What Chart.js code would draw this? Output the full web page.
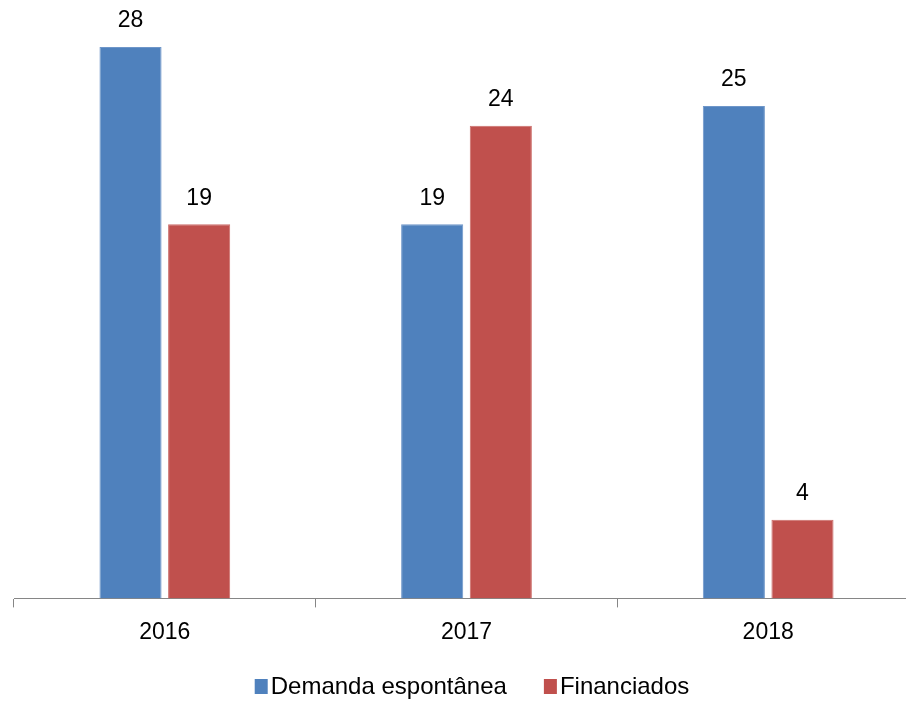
<!DOCTYPE html>
<html>
<head>
<meta charset="utf-8">
<script src="https://cdn.jsdelivr.net/npm/chart.js@4/dist/chart.umd.min.js"></script>
<style>
html,body{margin:0;padding:0;background:#fff;overflow:hidden;}
#wrap{position:relative;width:932px;height:702px;}
</style>
</head>
<body>
<div id="wrap"><canvas id="c" width="932" height="702"></canvas></div>
<script>
const categories = ["2016", "2017", "2018"];
const demandaEspontanea = [28, 19, 25];
const financiados = [19, 24, 4];
const seriesNames = ["Demanda espontânea", "Financiados"];

const FONT = "'Liberation Sans', Arial, sans-serif";

const labelsPlugin = {
  id: 'barLabels',
  afterDatasetsDraw(chart) {
    const ctx = chart.ctx;
    ctx.save();
    ctx.font = "23px " + FONT;
    ctx.fillStyle = "#000";
    ctx.textAlign = "center";
    ctx.textBaseline = "middle";
    chart.data.datasets.forEach((ds, i) => {
      chart.getDatasetMeta(i).data.forEach((bar, j) => {
        ctx.fillText(String(ds.data[j]), bar.x, bar.y - 26);
      });
    });
    ctx.restore();
  }
};

const legendPlugin = {
  id: 'customLegend',
  afterDraw(chart) {
    const ctx = chart.ctx;
    ctx.save();
    ctx.font = "24px " + FONT;
    ctx.textBaseline = "middle";
    ctx.textAlign = "left";
    const box = 13, gapBox = 3, gapItem = 37;
    const items = chart.data.datasets.map(ds => ({text: ds.label, color: ds.backgroundColor, w: ctx.measureText(ds.label).width}));
    let total = 0;
    items.forEach((it, k) => { total += box + gapBox + it.w + (k < items.length - 1 ? gapItem : 0); });
    let x = 472 - total / 2;
    const y = 687;
    items.forEach(it => {
      ctx.fillStyle = it.color;
      ctx.fillRect(x, y - 8, box, 15);
      x += box + gapBox;
      ctx.fillStyle = "#000";
      ctx.fillText(it.text, x, y);
      x += it.w + gapItem;
    });
    ctx.restore();
  }
};

new Chart(document.getElementById('c'), {
  type: 'bar',
  data: {
    labels: categories,
    datasets: [
      {label: seriesNames[0], data: demandaEspontanea, backgroundColor: '#4F81BD', borderColor: '#6E96C9', borderWidth: 1,
       categoryPercentage: 0.455, barPercentage: 0.905},
      {label: seriesNames[1], data: financiados, backgroundColor: '#C0504D', borderColor: '#CC6D6A', borderWidth: 1,
       categoryPercentage: 0.455, barPercentage: 0.905}
    ]
  },
  options: {
    responsive: false,
    animation: false,
    layout: {padding: {left: 14, right: 13, top: 47, bottom: 45}},
    plugins: {legend: {display: false}, tooltip: {enabled: false}},
    scales: {
      y: {display: false, min: 0, max: 28},
      x: {
        border: {display: true, color: '#868686', width: 1},
        grid: {display: true, drawOnChartArea: false, drawTicks: true, tickLength: 9, color: '#868686', offset: true},
        ticks: {color: '#000', font: {family: FONT, size: 23}, padding: 11}
      }
    }
  },
  plugins: [labelsPlugin, legendPlugin]
});
</script>
</body>
</html>
